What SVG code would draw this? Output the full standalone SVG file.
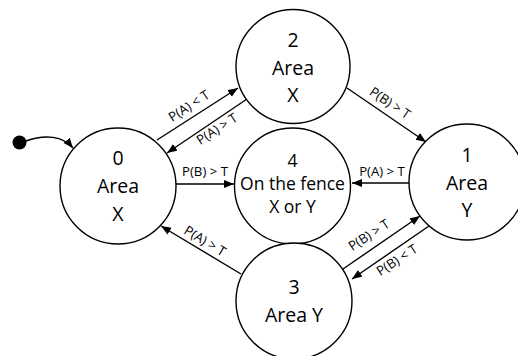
<svg xmlns="http://www.w3.org/2000/svg" width="518" height="356" viewBox="0 0 518 356">
<style>
.n{fill:#fff;stroke:#000;stroke-width:1.4}
.t{font-family:"Open Sans",sans-serif;font-size:19.5px;text-anchor:middle;fill:#000}
.t4{font-family:"Open Sans",sans-serif;font-size:17.5px;text-anchor:middle;fill:#000}
.l{font-family:"Open Sans",sans-serif;font-size:13.2px;text-anchor:middle;fill:#000}
.e{fill:none;stroke:#000;stroke-width:1.4;marker-end:url(#a)}
</style>
<defs>
<marker id="a" markerUnits="userSpaceOnUse" markerWidth="11" markerHeight="9" refX="10" refY="4" orient="auto">
<path d="M0,0 L10,4 L0,8 z" fill="#000"/>
</marker>
</defs>
<g id="connectors">
<circle cx="19.5" cy="142.5" r="7" fill="#000"/>
<path class="e" d="M26 141 C45 134 63 136 73 148"/>
<line class="e" x1="157" y1="140" x2="238" y2="88"/>
<line class="e" x1="247" y1="99" x2="167" y2="153"/>
<line class="e" x1="347" y1="88" x2="426" y2="142"/>
<line class="e" x1="176" y1="184" x2="234" y2="184"/>
<line class="e" x1="409" y1="183" x2="352" y2="183"/>
<line class="e" x1="241" y1="274" x2="161" y2="226"/>
<line class="e" x1="343" y1="269" x2="420" y2="216"/>
<line class="e" x1="429" y1="226" x2="352" y2="279"/>
<text class="l" transform="translate(189,106) rotate(-33)" y="4.5">P(A) &lt; T</text>
<text class="l" transform="translate(217,129) rotate(-33)" y="4.5">P(A) &gt; T</text>
<text class="l" transform="translate(390,103) rotate(34)" y="4.5">P(B) &gt; T</text>
<text class="l" x="205" y="176">P(B) &gt; T</text>
<text class="l" x="382" y="176">P(A) &gt; T</text>
<text class="l" transform="translate(205,241) rotate(31)" y="4.5">P(A) &gt; T</text>
<text class="l" transform="translate(369,235) rotate(-33)" y="4.5">P(B) &gt; T</text>
<text class="l" transform="translate(397,260) rotate(-33)" y="4.5">P(B) &lt; T</text>
</g>
<g id="node0">
<circle class="n" cx="118" cy="186" r="58"/>
<text class="t" x="118" y="165">0</text>
<text class="t" x="118" y="193">Area</text>
<text class="t" x="118" y="221">X</text>
</g>
<g id="node2">
<circle class="n" cx="293" cy="66.5" r="57"/>
<text class="t" x="293" y="47">2</text>
<text class="t" x="293" y="75">Area</text>
<text class="t" x="293" y="102">X</text>
</g>
<g id="node4">
<circle class="n" cx="292.5" cy="186" r="58"/>
<text class="t4" x="292.5" y="167">4</text>
<text class="t4" x="292.5" y="189.5">On the fence</text>
<text class="t4" x="292.5" y="213">X or Y</text>
</g>
<g id="node1">
<circle class="n" cx="467" cy="182" r="58"/>
<text class="t" x="467" y="162">1</text>
<text class="t" x="467" y="190">Area</text>
<text class="t" x="467" y="217">Y</text>
</g>
<g id="node3">
<circle class="n" cx="294" cy="301" r="58"/>
<text class="t" x="294" y="294">3</text>
<text class="t" x="294" y="322">Area Y</text>
</g>
</svg>
